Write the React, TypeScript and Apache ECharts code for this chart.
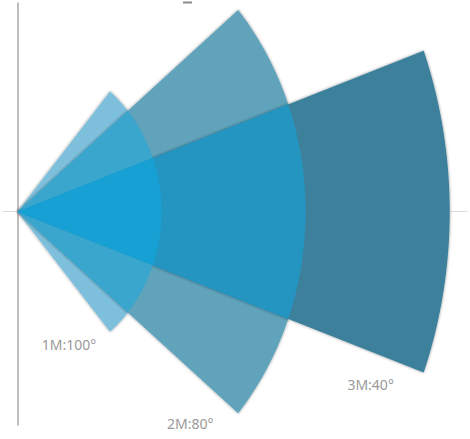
import React, { useEffect, useRef } from "react";
import * as echarts from "echarts";

// Data: range (m) and opening angle (deg) for each sector
const ranges = [1, 2, 3];
const angles = [100, 80, 40];
const labels = ["1M:100°", "2M:80°", "3M:40°"];

// Styles (kept apart from the data)
const sectorColors = ["#7ec0dc", "#60a3bb", "#3c809b"];
const pairColors: Record<string, string> = { "0-1": "#3aa6cd", "1-2": "#2494c0", "0-2": "#17a0d4" };
const tripleColor = "#17a0d4";
const labelDx = [-41, -48, -53];
const labelDy = [13, 10, 12];

// Overlap regions derived from the data: sectors share an apex and axis,
// so their intersection is the sector with the smaller radius and smaller angle.
const overlapData: number[][] = [];
const overlapColors: string[] = [];
for (let i = 0; i < ranges.length; i++) {
  for (let j = i + 1; j < ranges.length; j++) {
    overlapData.push([Math.min(ranges[i], ranges[j]), Math.min(angles[i], angles[j])]);
    overlapColors.push(pairColors[i + "-" + j]);
  }
}
overlapData.push([Math.min(...ranges), Math.min(...angles)]);
overlapColors.push(tripleColor);

const sectorData = ranges.map((r, i) => [r, angles[i]]);

function sectorPoints(api: any, r: number, angleDeg: number) {
  const half = (angleDeg / 2) * (Math.PI / 180);
  const pts: number[][] = [api.coord([0, 0])];
  const n = 80;
  for (let k = 0; k <= n; k++) {
    const a = -half + (2 * half * k) / n;
    pts.push(api.coord([r * Math.cos(a), r * Math.sin(a)]));
  }
  return pts;
}

export default function App() {
  const ref = useRef<HTMLDivElement>(null);
  useEffect(() => {
    document.body.style.margin = "0";
    const chart = echarts.init(ref.current!, null, { renderer: "svg" });
    chart.setOption({
      animation: false,
      grid: { left: 3, top: 3, width: 464, height: 422 },
      xAxis: {
        type: "value",
        min: -0.1,
        max: 3.12,
        axisLine: { show: true, onZero: true, lineStyle: { color: "#dcdcdc", width: 1 } },
        axisTick: { show: false },
        axisLabel: { show: false },
        splitLine: { show: false },
      },
      yAxis: {
        type: "value",
        min: -1.36,
        max: 1.33,
        axisLine: { show: true, onZero: true, lineStyle: { color: "#aaaaaa", width: 1.5 } },
        axisTick: { show: false },
        axisLabel: { show: false },
        splitLine: { show: false },
      },
      graphic: [
        {
          type: "line",
          shape: { x1: 183, y1: 2.5, x2: 192, y2: 2.5 },
          style: { stroke: "#8a8a8a", lineWidth: 2 },
        },
      ],
      series: [
        {
          type: "custom",
          name: "sectors",
          coordinateSystem: "cartesian2d",
          clip: false,
          z: 2,
          data: sectorData,
          renderItem: (params: any, api: any) => {
            const i = params.dataIndex;
            const r = api.value(0);
            const ang = api.value(1);
            const half = (ang / 2) * (Math.PI / 180);
            const tip = api.coord([r * Math.cos(half), -r * Math.sin(half)]);
            return {
              type: "group",
              children: [
                {
                  type: "polygon",
                  shape: { points: sectorPoints(api, r, ang) },
                  style: {
                    fill: sectorColors[i],
                    shadowBlur: 3,
                    shadowColor: "rgba(0,0,0,0.45)",
                  },
                },
                {
                  type: "text",
                  x: tip[0] + labelDx[i],
                  y: tip[1] + labelDy[i],
                  style: {
                    text: labels[i],
                    fill: "#9a9a9a",
                    fontSize: 14,
                    fontFamily: "Noto Sans",
                    align: "center",
                    verticalAlign: "middle",
                  },
                },
              ],
            };
          },
        },
        {
          type: "custom",
          name: "overlaps",
          coordinateSystem: "cartesian2d",
          clip: false,
          z: 3,
          data: overlapData,
          renderItem: (params: any, api: any) => {
            const i = params.dataIndex;
            return {
              type: "polygon",
              shape: { points: sectorPoints(api, api.value(0), api.value(1)) },
              style: { fill: overlapColors[i] },
            };
          },
        },
      ],
    });
    return () => chart.dispose();
  }, []);
  return <div ref={ref} style={{ width: 470, height: 439, position: "absolute", left: 0, top: 0 }} />;
}
